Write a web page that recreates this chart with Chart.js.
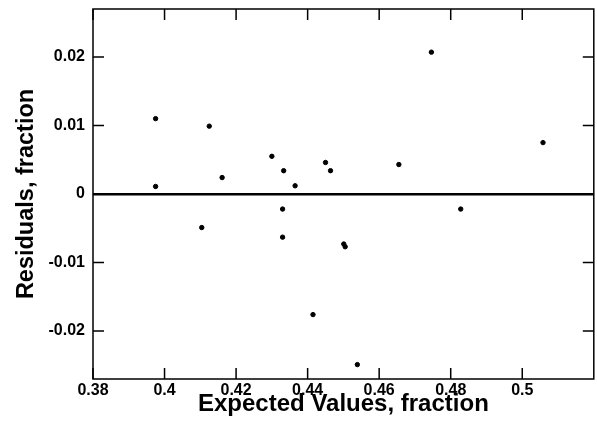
<!DOCTYPE html>
<html>
<head>
<meta charset="utf-8">
<script src="https://cdn.jsdelivr.net/npm/chart.js@4.4.0/dist/chart.umd.min.js"></script>
<style>
  html, body { margin: 0; padding: 0; background: #fff; }
  #wrap { width: 597px; height: 428px; }
</style>
</head>
<body>
<div id="wrap"><canvas id="residChart" width="597" height="428"></canvas></div>
<script>
// 잔차 데이터
const expectedValues = [0.3975, 0.3975, 0.4125, 0.4104, 0.4161, 0.4300, 0.4333, 0.4330, 0.4330, 0.4365,
                        0.4415, 0.4450, 0.4464, 0.4501, 0.4505, 0.4539, 0.4655, 0.4746, 0.4828, 0.5058];
const residuals = [0.0110, 0.0011, 0.0099, -0.0049, 0.0024, 0.0055, 0.0034, -0.0022, -0.0063, 0.0012,
                   -0.0176, 0.0046, 0.0034, -0.0073, -0.0077, -0.0249, 0.0043, 0.0207, -0.0022, 0.0075];
const xTicks = [0.38, 0.40, 0.42, 0.44, 0.46, 0.48, 0.50];
const yTicks = [-0.02, -0.01, 0, 0.01, 0.02];

const points = expectedValues.map((x, i) => ({x: x, y: residuals[i]}));

// 안쪽 눈금 + 테두리
const frameTicks = {
    id: 'frameTicks',
    afterDatasetsDraw(chart) {
        const {ctx, chartArea: a, scales: {x, y}} = chart;
        const len = 11;
        ctx.save();
        ctx.strokeStyle = '#000';
        ctx.lineWidth = 1.5;
        ctx.strokeRect(a.left, a.top, a.right - a.left, a.bottom - a.top);
        ctx.beginPath();
        x.ticks.forEach(t => {
            const px = x.getPixelForValue(t.value);
            ctx.moveTo(px, a.bottom); ctx.lineTo(px, a.bottom - len);
            ctx.moveTo(px, a.top); ctx.lineTo(px, a.top + len);
        });
        y.ticks.forEach(t => {
            const py = y.getPixelForValue(t.value);
            ctx.moveTo(a.left, py); ctx.lineTo(a.left + len, py);
            ctx.moveTo(a.right, py); ctx.lineTo(a.right - len, py);
        });
        ctx.stroke();
        ctx.restore();
    }
};

const tickFont = {family: 'Liberation Sans, Arial, sans-serif', size: 16, weight: 'bold'};
const titleFont = {family: 'Liberation Sans, Arial, sans-serif', size: 24, weight: 'bold'};

new Chart(document.getElementById('residChart').getContext('2d'), {
    type: 'scatter',
    data: {
        datasets: [{
            label: 'Residuals',
            data: points,
            backgroundColor: '#000',
            borderColor: '#000',
            pointRadius: 2.2,
            pointHoverRadius: 2.2
        }]
    },
    options: {
        responsive: false,
        animation: false,
        layout: {padding: {left: 0, right: 3, top: 9, bottom: 0}},
        plugins: {legend: {display: false}, tooltip: {enabled: false}},
        scales: {
            x: {
                type: 'linear',
                min: 0.38,
                max: 0.52,
                afterBuildTicks: s => { s.ticks = xTicks.map(v => ({value: v})); },
                afterFit: s => { s.height = 49; s.paddingLeft = 0; s.paddingRight = 0; },
                grid: {display: false, drawTicks: false},
                border: {display: false},
                ticks: {
                    color: '#000',
                    font: tickFont,
                    padding: 2,
                    maxRotation: 0,
                    callback: v => String(+v.toFixed(2))
                },
                title: {display: true, text: 'Expected Values, fraction', color: '#000', font: titleFont, padding: {top: 0, bottom: 9}}
            },
            y: {
                type: 'linear',
                min: -0.027,
                max: 0.027,
                afterBuildTicks: s => { s.ticks = yTicks.map(v => ({value: v})); },
                afterFit: s => { s.width = 93; s.paddingTop = 0; s.paddingBottom = 0; },
                grid: {
                    drawTicks: false,
                    color: c => (c.tick && c.tick.value === 0) ? '#000' : 'rgba(0,0,0,0)',
                    lineWidth: c => (c.tick && c.tick.value === 0) ? 2.5 : 0
                },
                border: {display: false},
                ticks: {
                    color: '#000',
                    font: tickFont,
                    padding: 8,
                    callback: v => String(+v.toFixed(2))
                },
                title: {display: true, text: 'Residuals, fraction', color: '#000', font: {family: 'Liberation Sans, Arial, sans-serif', size: 23.5, weight: 'bold'}, padding: {top: 12, bottom: 0}}
            }
        }
    },
    plugins: [frameTicks]
});
</script>
</body>
</html>
